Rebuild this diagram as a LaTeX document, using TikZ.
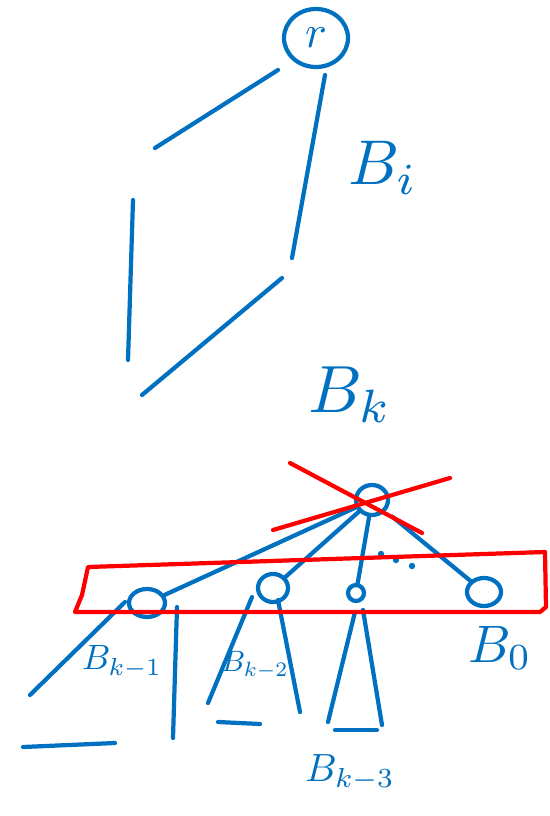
\documentclass[tikz,border=0pt]{standalone}
\usepackage{amsmath}
\usepackage{graphicx}
\usepackage{tikz}
\usetikzlibrary{shapes.geometric}
\definecolor{pen}{RGB}{0,112,192}
\definecolor{cross}{RGB}{255,0,0}

\begin{document}
\begin{tikzpicture}[x=0.05cm, y=-0.05cm, line cap=round, line join=round,
    ink/.style={draw=pen, line width=6pt},
    redink/.style={draw=cross, line width=6pt},
    knot/.style={ellipse, draw=pen, line width=6pt, inner sep=0pt},
    lbl/.style={text=pen, inner sep=0pt}]
    \useasboundingbox (0,0) rectangle (550,816);

    % root and the long path down
    \node[knot, minimum width=3.2cm, minimum height=2.9cm, lbl] (r) at (316,38)
        {\scalebox{6.5}{$r$}};
    \coordinate (l1a) at (278,70);  \coordinate (l1b) at (155,148);
    \coordinate (r1a) at (325,75);  \coordinate (r1b) at (292,258);
    \coordinate (v1a) at (133,200); \coordinate (v1b) at (128,360);
    \coordinate (d1a) at (282,278); \coordinate (d1b) at (142,395);
    \draw[ink] (l1a) -- (l1b); \draw[ink] (r1a) -- (r1b);
    \draw[ink] (v1a) -- (v1b); \draw[ink] (d1a) -- (d1b);

    \node[lbl] (bi) at (383,168) {\scalebox{9}{$B_i$}};
    \node[lbl] (bk) at (350,395) {\scalebox{9.5}{$B_k$}};

    % the node B_k and its children
    \node[knot, minimum width=1.6cm, minimum height=1.5cm] (t) at (372,500) {};
    \node[knot, minimum width=1.8cm, minimum height=1.4cm] (c1) at (147,603) {};
    \node[knot, minimum width=1.5cm, minimum height=1.4cm] (c2) at (273,588) {};
    \node[knot, minimum width=0.8cm, minimum height=0.8cm] (c3) at (356,593) {};
    \node[knot, minimum width=1.7cm, minimum height=1.4cm] (c0) at (484,592) {};

    \draw[ink] (t) -- (c1); \draw[ink] (t) -- (c2);
    \draw[ink] (t) -- (c3); \draw[ink, shorten <=12pt] (t) -- (c0);
    \foreach \p in {(381,554),(396,560),(412,566)}
        {\fill[pen] \p circle (3.2);}

    % subtrees
    \coordinate (s1a) at (125,602); \coordinate (s1b) at (30,695);
    \coordinate (s1c) at (177,607); \coordinate (s1d) at (173,738);
    \coordinate (s1e) at (23,747);  \coordinate (s1f) at (115,743);
    \draw[ink] (s1a) -- (s1b); \draw[ink] (s1c) -- (s1d); \draw[ink] (s1e) -- (s1f);

    \coordinate (s2a) at (252,597); \coordinate (s2b) at (208,703);
    \coordinate (s2c) at (278,600); \coordinate (s2d) at (300,712);
    \coordinate (s2e) at (218,722); \coordinate (s2f) at (260,724);
    \draw[ink] (s2a) -- (s2b); \draw[ink] (s2c) -- (s2d); \draw[ink] (s2e) -- (s2f);

    \coordinate (s3a) at (355,612); \coordinate (s3b) at (328,722);
    \coordinate (s3c) at (363,610); \coordinate (s3d) at (382,725);
    \coordinate (s3e) at (335,730); \coordinate (s3f) at (377,730);
    \draw[ink] (s3a) -- (s3b); \draw[ink] (s3c) -- (s3d); \draw[ink] (s3e) -- (s3f);

    \node[lbl] (b1) at (122,662) {\scalebox{5}{$B_{k-1}$}};
    \node[lbl] (b2) at (255,665) {\scalebox{4.2}{$B_{k-2}$}};
    \node[lbl] (b3) at (350,773) {\scalebox{5.6}{$B_{k-3}$}};
    \node[lbl] (b0) at (500,648) {\scalebox{7.5}{$B_0$}};

    % struck out root, boxed children
    \coordinate (x1) at (290,463); \coordinate (x2) at (422,533);
    \coordinate (x3) at (273,530); \coordinate (x4) at (450,478);
    \draw[redink] (x1) -- (x2); \draw[redink] (x3) -- (x4);
    \draw[redink] (88,567) -- (545,552) -- (546,607) -- (540,612)
        -- (75,612) -- (82,595) -- cycle;
\end{tikzpicture}
\end{document}
